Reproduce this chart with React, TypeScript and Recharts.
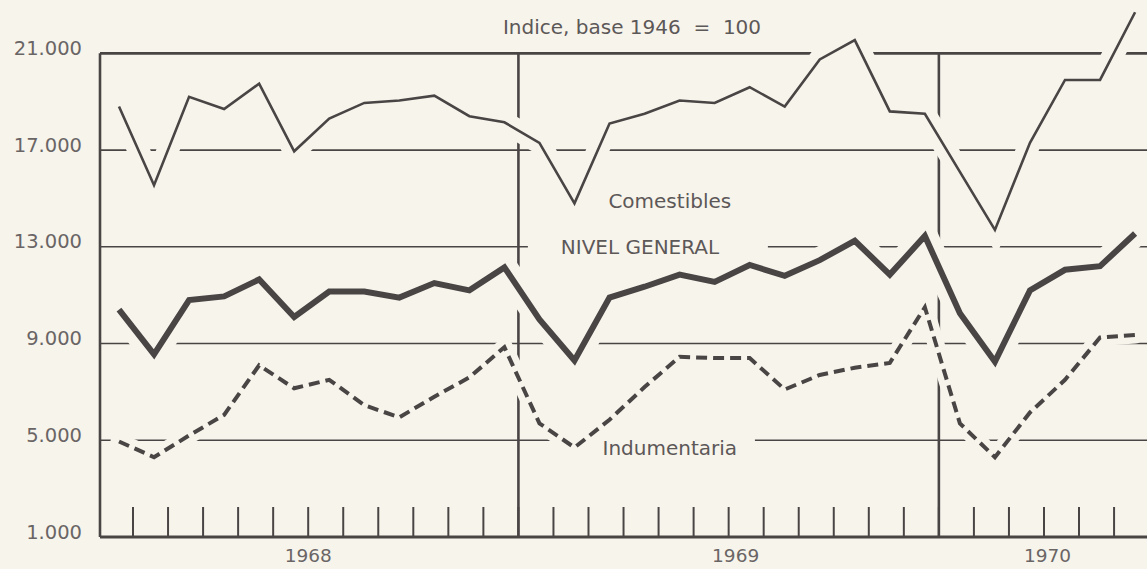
import React from 'react';
import {
  LineChart,
  Line,
  XAxis,
  YAxis,
  ReferenceLine,
  ReferenceArea,
  ReferenceDot,
} from 'recharts';

// ---------- data ----------
const months = [
  'Ene 1968', 'Feb 1968', 'Mar 1968', 'Abr 1968', 'May 1968', 'Jun 1968',
  'Jul 1968', 'Ago 1968', 'Sep 1968', 'Oct 1968', 'Nov 1968', 'Dic 1968',
  'Ene 1969', 'Feb 1969', 'Mar 1969', 'Abr 1969', 'May 1969', 'Jun 1969',
  'Jul 1969', 'Ago 1969', 'Sep 1969', 'Oct 1969', 'Nov 1969', 'Dic 1969',
  'Ene 1970', 'Feb 1970', 'Mar 1970', 'Abr 1970', 'May 1970', 'Jun 1970',
];

const comestibles = [
  18800, 15550, 19200, 18700, 19750, 16950, 18300, 18950, 19050, 19250, 18400, 18150,
  17300, 14800, 18100, 18500, 19050, 18950, 19600, 18800, 20750, 21550, 18600, 18500,
  16100, 13700, 17300, 19900, 19900, 22700,
];

const nivelGeneral = [
  10400, 8550, 10800, 10950, 11650, 10100, 11150, 11150, 10900, 11500, 11200, 12150,
  10000, 8300, 10900, 11350, 11850, 11550, 12250, 11800, 12450, 13250, 11850, 13450,
  10250, 8250, 11200, 12050, 12200, 13550,
];

const indumentaria = [
  4950, 4300, 5200, 6050, 8100, 7150, 7500, 6450, 5950, 6800, 7600, 8850,
  5700, 4700, 5850, 7200, 8450, 8400, 8400, 7100, 7700, 8000, 8200, 10500,
  5700, 4300, 6150, 7500, 9250, 9350,
];

const yTicks = [1000, 5000, 9000, 13000, 17000, 21000];
const innerGridValues = [5000, 9000, 13000, 17000];
const yearLabels = ['1968', '1969', '1970'];
const yearTickPositions = [5.4, 17.6, 26.5];
const yearDividers = [11.4, 23.4];
const monthTicks = months.slice(0, 29).map((_, i) => i + 0.4);

const data = months.map((m, i) => ({
  idx: i,
  month: m,
  comestibles: comestibles[i],
  general: nivelGeneral[i],
  indumentaria: indumentaria[i],
}));

// ---------- style ----------
const BG = '#f7f4ec';
const INK = '#4a4545';
const TEXT = '#5d5858';
const AXIS_TEXT = '#6a6565';
const FONT = '"DejaVu Sans", "Liberation Sans", sans-serif';
const X_DOMAIN: [number, number] = [-0.542, 29.34];
const Y_DOMAIN: [number, number] = [1000, 23000];

const fmt = (v: number) => String(v).replace(/\B(?=(\d{3})+(?!\d))/g, '.');

const YTick = (props: any) => {
  const { x, y, payload } = props;
  return (
    <text
      x={x}
      y={y - 5}
      textAnchor="end"
      dominantBaseline="central"
      fill={AXIS_TEXT}
      fontSize={19.5}
      fontFamily={FONT}
    >
      {fmt(payload.value)}
    </text>
  );
};

const MonthTick = (props: any) => {
  const { x, y } = props;
  return <line x1={x} x2={x} y1={y} y2={y - 30} stroke={INK} strokeWidth={2} />;
};

const YearTick = (props: any) => {
  const { x, y, index } = props;
  return (
    <text x={x} y={y + 24} textAnchor="middle" fill={AXIS_TEXT} fontSize={18.5} fontFamily={FONT}>
      {yearLabels[index]}
    </text>
  );
};

const labelStyle = { fill: TEXT, fontSize: 20, fontFamily: FONT };

export default function App() {
  const anyZ = (z: number) => ({ zIndex: z } as any);
  return (
    <div
      style={{
        position: 'absolute',
        left: 0,
        top: 0,
        width: 1147,
        height: 569,
        background: BG,
        overflow: 'hidden',
      }}
    >
      <LineChart width={1147} height={569} data={data} margin={{ top: 5, right: 0, bottom: 0, left: 0 }}>
        <XAxis
          dataKey="idx"
          type="number"
          domain={X_DOMAIN}
          ticks={monthTicks}
          interval={0}
          height={1}
          tickSize={0}
          tickMargin={0}
          tickLine={false}
          axisLine={{ stroke: INK, strokeWidth: 3 }}
          tick={<MonthTick />}
        />
        <XAxis
          xAxisId="year"
          dataKey="idx"
          type="number"
          domain={X_DOMAIN}
          ticks={yearTickPositions}
          interval={0}
          height={31}
          tickSize={0}
          tickMargin={0}
          tickLine={false}
          axisLine={false}
          tick={<YearTick />}
        />
        <YAxis
          type="number"
          domain={Y_DOMAIN}
          ticks={yTicks}
          interval={0}
          width={100}
          tickSize={0}
          tickMargin={18}
          tickLine={false}
          axisLine={false}
          tick={<YTick />}
        />

        {innerGridValues.map((v) => (
          <ReferenceLine key={v} y={v} stroke={INK} strokeWidth={1.6} {...anyZ(-100)} />
        ))}
        <ReferenceLine y={21000} stroke={INK} strokeWidth={2.6} {...anyZ(-100)} />
        <ReferenceLine
          segment={[{ x: X_DOMAIN[0], y: 1000 }, { x: X_DOMAIN[0], y: 21000 }]}
          stroke={INK}
          strokeWidth={2.6}
          {...anyZ(-100)}
        />
        {yearDividers.map((d) => (
          <ReferenceLine
            key={d}
            segment={[{ x: d, y: 1000 }, { x: d, y: 21000 }]}
            stroke={INK}
            strokeWidth={2.6}
            {...anyZ(-100)}
          />
        ))}

        <ReferenceArea x1={11.67} x2={18.52} y1={12650} y2={13350} fill={BG} fillOpacity={1} stroke="none" {...anyZ(-50)} />
        <ReferenceArea x1={13.44} x2={18.15} y1={4300} y2={5300} fill={BG} fillOpacity={1} stroke="none" {...anyZ(-50)} />

        {/* halos */}
        <Line type="linear" dataKey="comestibles" stroke={BG} strokeWidth={22} dot={false} activeDot={false} isAnimationActive={false} strokeLinecap="round" {...anyZ(390)} />
        <Line type="linear" dataKey="general" stroke={BG} strokeWidth={26} dot={false} activeDot={false} isAnimationActive={false} strokeLinecap="round" {...anyZ(390)} />
        <Line type="linear" dataKey="indumentaria" stroke={BG} strokeWidth={17} dot={false} activeDot={false} isAnimationActive={false} strokeLinecap="round" {...anyZ(390)} />

        {/* series */}
        <Line type="linear" dataKey="comestibles" name="Comestibles" stroke={INK} strokeWidth={2.6} dot={false} activeDot={false} isAnimationActive={false} {...anyZ(400)} />
        <Line type="linear" dataKey="general" name="Nivel general" stroke={INK} strokeWidth={6} dot={false} activeDot={false} isAnimationActive={false} {...anyZ(400)} />
        <Line type="linear" dataKey="indumentaria" name="Indumentaria" stroke={INK} strokeWidth={4} strokeDasharray="11 6" dot={false} activeDot={false} isAnimationActive={false} {...anyZ(400)} />

        <ReferenceDot x={15.72} y={14895} r={0} fill="none" stroke="none" label={{ value: 'Comestibles', position: 'center', ...labelStyle }} />
        <ReferenceDot x={14.87} y={13000} r={0} fill="none" stroke="none" label={{ value: 'NIVEL GENERAL', position: 'center', ...labelStyle }} />
        <ReferenceDot x={15.72} y={4680} r={0} fill="none" stroke="none" label={{ value: 'Indumentaria', position: 'center', ...labelStyle }} />
      </LineChart>
      <div
        style={{
          position: 'absolute',
          left: 432,
          top: 17,
          width: 400,
          textAlign: 'center',
          fontFamily: FONT,
          fontSize: 20,
          lineHeight: '20px',
          color: TEXT,
          whiteSpace: 'pre',
        }}
      >
        {'Indice, base 1946  =  100'}
      </div>
    </div>
  );
}
